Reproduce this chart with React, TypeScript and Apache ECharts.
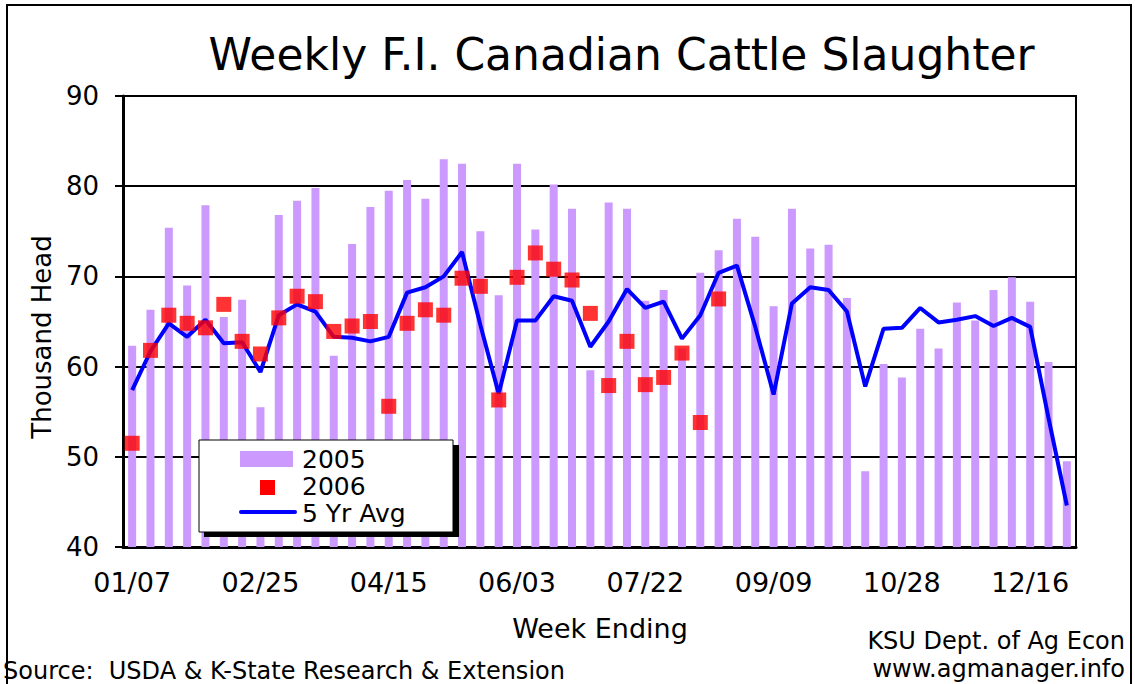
import React, { useEffect, useRef } from "react";
import * as echarts from "echarts";

const FONT = "'DejaVu Sans', Verdana, sans-serif";

const weekEnding = [
  "01/07", "01/14", "01/21", "01/28", "02/04", "02/11", "02/18", "02/25",
  "03/04", "03/11", "03/18", "03/25", "04/01", "04/08", "04/15", "04/22",
  "04/29", "05/06", "05/13", "05/20", "05/27", "06/03", "06/10", "06/17",
  "06/24", "07/01", "07/08", "07/15", "07/22", "07/29", "08/05", "08/12",
  "08/19", "08/26", "09/02", "09/09", "09/16", "09/23", "09/30", "10/07",
  "10/14", "10/21", "10/28", "11/04", "11/11", "11/18", "11/25", "12/02",
  "12/09", "12/16", "12/23", "12/30",
];

const slaughter2005 = [
  62.3, 66.3, 75.4, 69.0, 77.9, 65.5, 67.4, 55.5, 76.8, 78.4, 79.8, 61.2, 73.6,
  77.7, 79.5, 80.7, 78.6, 83.0, 82.5, 75.0, 67.9, 82.5, 75.2, 80.2, 77.5, 59.6,
  78.2, 77.5, 67.3, 68.5, 62.0, 70.4, 72.9, 76.4, 74.4, 66.7, 77.5, 73.1, 73.5,
  67.6, 48.4, 60.3, 58.8, 64.2, 62.0, 67.1, 65.1, 68.5, 69.9, 67.2, 60.5, 49.5,
];

const slaughter2006 = [
  51.5, 61.8, 65.7, 64.8, 64.3, 66.9, 62.8, 61.4, 65.4, 67.8, 67.2, 63.9, 64.5,
  65.0, 55.6, 64.8, 66.3, 65.7, 69.8, 68.9, 56.3, 69.9, 72.6, 70.8, 69.6, 65.9,
  57.9, 62.8, 58.0, 58.8, 61.5, 53.8, 67.5,
];

const fiveYrAvg = [
  57.4, 61.7, 64.8, 63.3, 65.2, 62.6, 62.7, 59.4, 65.7, 66.9, 66.1, 63.3, 63.2,
  62.8, 63.3, 68.2, 68.8, 70.0, 72.7, 64.6, 57.0, 65.1, 65.1, 67.8, 67.3, 62.2,
  65.0, 68.6, 66.5, 67.2, 63.1, 65.7, 70.4, 71.2, 64.4, 56.9, 67.0, 68.8, 68.5,
  66.1, 57.8, 64.2, 64.3, 66.5, 64.9, 65.2, 65.6, 64.5, 65.4, 64.4, 54.3, 44.6,
];

const titleText = "Weekly F.I. Canadian Cattle Slaughter";
const yAxisTitle = "Thousand Head";
const xAxisTitle = "Week Ending";
const sourceText = "Source:  USDA & K-State Research & Extension";
const creditLines = ["KSU Dept. of Ag Econ", "www.agmanager.info"];
const legendNames = ["2005", "2006", "5 Yr Avg"];

const BAR_COLOR = "#CC99FF";
const MARK_COLOR = "#FF0000";
const LINE_COLOR = "#0000FF";

export default function App() {
  const ref = useRef<HTMLDivElement>(null);

  useEffect(() => {
    document.body.style.margin = "0";
    if (!ref.current) return;
    const chart = echarts.init(ref.current, null, { renderer: "svg" });

    const txt = (text: string, x: number, y: number, fontSize: number, align = "center", extra: any = {}) => ({
      type: "text",
      x,
      y,
      z: 100,
      ...extra,
      style: {
        text,
        fontSize,
        lineHeight: fontSize,
        fontFamily: FONT,
        fill: "#000",
        align,
        verticalAlign: "middle",
      },
    });

    const option: any = {
      animation: false,
      backgroundColor: "#fff",
      textStyle: { fontFamily: FONT },
      grid: {
        left: 123,
        top: 96,
        right: 59,
        bottom: 137,
        show: true,
        borderColor: "#000",
        borderWidth: 2,
        backgroundColor: "transparent",
      },
      xAxis: {
        type: "category",
        data: weekEnding,
        boundaryGap: true,
        axisLine: { lineStyle: { color: "#000", width: 3 } },
        axisTick: { interval: 6, length: 9, lineStyle: { color: "#000", width: 3 } },
        axisLabel: { interval: 6, margin: 22, fontSize: 27, color: "#000", fontFamily: FONT },
        splitLine: { show: false },
      },
      yAxis: {
        type: "value",
        min: 40,
        max: 90,
        interval: 10,
        axisLine: { show: true, lineStyle: { color: "#000", width: 3 } },
        axisTick: { show: true, length: 8, lineStyle: { color: "#000", width: 2 } },
        axisLabel: { margin: 24, fontSize: 26, color: "#000", fontFamily: FONT },
        splitLine: { show: true, lineStyle: { color: "#000", width: 2 } },
      },
      series: [
        {
          name: legendNames[0],
          type: "bar",
          data: slaughter2005,
          barWidth: 8,
          itemStyle: { color: BAR_COLOR },
          z: 1,
        },
        {
          name: legendNames[2],
          type: "line",
          data: fiveYrAvg,
          symbol: "none",
          lineStyle: { color: LINE_COLOR, width: 4 },
          z: 2,
        },
        {
          name: legendNames[1],
          type: "scatter",
          data: slaughter2006.map((v, i) => [i, v]),
          symbol: "rect",
          symbolSize: 15,
          itemStyle: { color: MARK_COLOR },
          z: 3,
        },
      ],
      graphic: [
        {
          type: "rect",
          z: 100,
          silent: true,
          shape: { x: 7, y: 5, width: 1124, height: 720 },
          style: { fill: "none", stroke: "#000", lineWidth: 2 },
        },
        txt(titleText, 621.5, 54, 44),
        txt(yAxisTitle, 42, 337, 26, "center", { rotation: Math.PI / 2 }),
        txt(xAxisTitle, 600, 628, 27),
        txt(creditLines[0], 1125, 641, 24, "right"),
        txt(creditLines[1], 1125, 669, 24, "right"),
        txt(sourceText, 3, 671, 24, "left"),
        // legend
        {
          type: "rect",
          z: 100,
          shape: { x: 204, y: 445, width: 255, height: 92 },
          style: { fill: "#000" },
        },
        {
          type: "rect",
          z: 101,
          shape: { x: 199, y: 440, width: 254, height: 92 },
          style: { fill: "#fff", stroke: "#000", lineWidth: 1 },
        },
        {
          type: "rect",
          z: 102,
          shape: { x: 240, y: 451, width: 53, height: 16 },
          style: { fill: BAR_COLOR },
        },
        {
          type: "rect",
          z: 102,
          shape: { x: 260, y: 480, width: 15, height: 15 },
          style: { fill: MARK_COLOR },
        },
        {
          type: "line",
          z: 102,
          shape: { x1: 241, y1: 512, x2: 295, y2: 512 },
          style: { stroke: LINE_COLOR, lineWidth: 4, lineCap: "round" },
        },
        { ...txt(legendNames[0], 302, 459, 25, "left"), z: 103 },
        { ...txt(legendNames[1], 302, 486, 25, "left"), z: 103 },
        { ...txt(legendNames[2], 302, 513, 25, "left"), z: 103 },
      ],
    };

    chart.setOption(option);
    return () => chart.dispose();
  }, []);

  return (
    <div
      ref={ref}
      style={{ position: "absolute", left: 0, top: 0, width: 1135, height: 684 }}
    />
  );
}
